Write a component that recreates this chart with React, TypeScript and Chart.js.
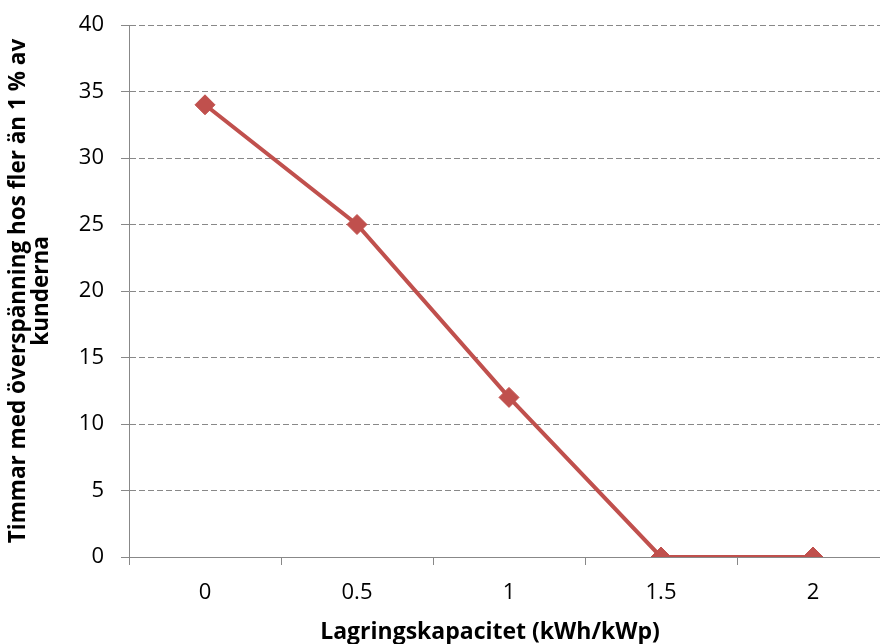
import React, { useEffect, useRef } from "react";
import { Chart, registerables } from "chart.js";

Chart.register(...registerables);

const categories = ["0", "0.5", "1", "1.5", "2"];
const hours = [34, 25, 12, 0, 0];
const yMin = 0;
const yMax = 40;
const yStep = 5;
const xTitle = "Lagringskapacitet (kWh/kWp)";
const yTitle = ["Timmar med överspänning hos fler än 1 % av", "kunderna"];

const FONT = "'Open Sans', 'DejaVu Sans', sans-serif";
const LINE = "#C0504D";
const GRID = "#888888";

export default function App() {
  const ref = useRef<HTMLCanvasElement | null>(null);

  useEffect(() => {
    if (!ref.current) return;
    const xTitlePlugin = {
      id: "xTitlePlugin",
      afterDraw(chart: any) {
        const ctx = chart.ctx;
        ctx.save();
        ctx.font = `bold 23px ${FONT}`;
        ctx.fillStyle = "#000";
        ctx.textAlign = "center";
        ctx.textBaseline = "middle";
        ctx.fillText(xTitle, 490, 632);
        ctx.restore();
      },
    };
    const chart = new Chart(ref.current, {
      type: "line",
      data: {
        labels: categories,
        datasets: [
          {
            data: hours,
            borderColor: LINE,
            backgroundColor: LINE,
            borderWidth: 4,
            pointStyle: "rectRot",
            pointRadius: 10,
            pointBorderWidth: 1,
            pointBackgroundColor: LINE,
            pointBorderColor: LINE,
            tension: 0,
          },
        ],
      },
      options: {
        responsive: false,
        animation: false,
        layout: { padding: { left: 0, top: 25, right: 11, bottom: 0 } },
        plugins: {
          legend: { display: false },
          tooltip: { enabled: false },
        },
        scales: {
          x: {
            type: "category",
            offset: true,
            grid: {
              offset: true,
              drawOnChartArea: false,
              drawTicks: true,
              tickLength: 8,
              color: GRID,
            },
            border: { color: GRID, width: 1 },
            ticks: {
              color: "#000",
              font: { family: FONT, size: 22 },
              padding: 15,
              maxRotation: 0,
            },
            afterFit: (s: any) => {
              s.height = 87;
              s.paddingLeft = 0;
              s.paddingRight = 0;
            },
          },
          y: {
            min: yMin,
            max: yMax,
            ticks: {
              stepSize: yStep,
              color: "#000",
              font: { family: FONT, size: 22 },
              padding: 17,
            },
            grid: {
              color: GRID,
              tickLength: 8,
              tickBorderDash: [],
            },
            border: { color: GRID, width: 1, dash: [6, 3] },
            title: {
              display: true,
              text: yTitle,
              color: "#000",
              font: { family: FONT, size: 22.5, weight: "bold", lineHeight: 1.0 },
              padding: { top: 7.5, bottom: 0 },
            },
            afterFit: (s: any) => {
              s.width = 129;
              s.paddingTop = 0;
              s.paddingBottom = 0;
            },
          },
        },
      },
      plugins: [xTitlePlugin],
    });
    return () => chart.destroy();
  }, []);

  return (
    <div
      style={{
        position: "fixed",
        left: 0,
        top: 0,
        width: 880,
        height: 644,
        overflow: "hidden",
        background: "#fff",
      }}
    >
      <canvas ref={ref} width={900} height={644} style={{ display: "block" }} />
    </div>
  );
}
